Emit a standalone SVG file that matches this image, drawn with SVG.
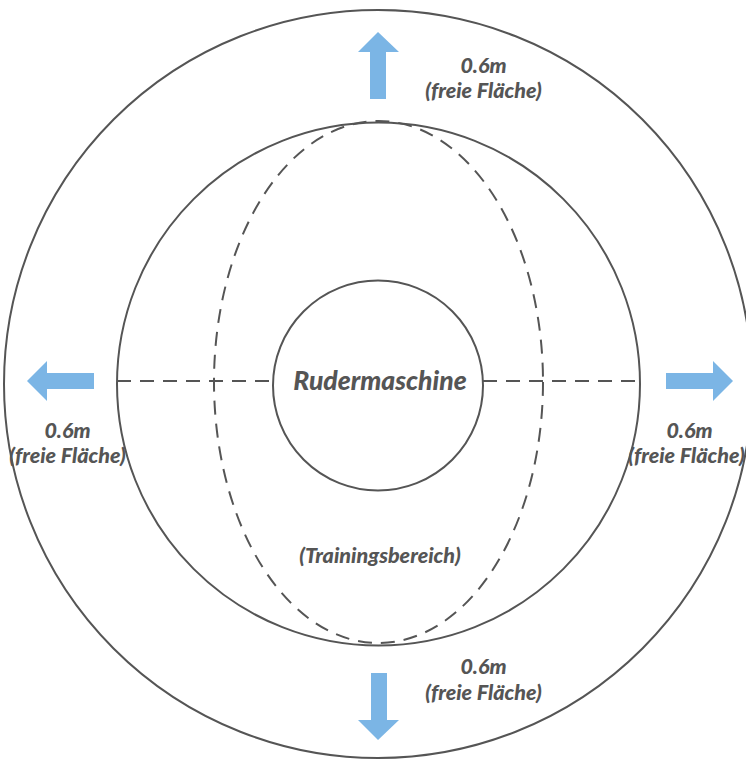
<svg xmlns="http://www.w3.org/2000/svg" width="746" height="761" viewBox="0 0 746 761">
<style>
.ring{fill:none;stroke:#555;stroke-width:2}
.dash{fill:none;stroke:#555;stroke-width:2;stroke-dasharray:14 9}
.arrow{fill:#7bb5e5}
.lbl{font-family:Lato,"Open Sans",sans-serif;font-weight:900;font-style:italic;fill:#555;text-anchor:middle;font-size:21.5px}
.big{font-size:26.5px}
</style>
<rect width="746" height="761" fill="#fff"/>
<g id="outer"><circle class="ring" cx="378" cy="384" r="374"/></g>
<g id="training-area">
<circle class="ring" cx="378.5" cy="384" r="261.5"/>
<ellipse class="dash" cx="378.5" cy="382" rx="164.5" ry="261"/>
<text class="lbl" x="380" y="563">(Trainingsbereich)</text>
</g>
<g id="connectors">
<line class="dash" x1="117" y1="381" x2="273" y2="381"/>
<line class="dash" x1="483" y1="381" x2="640" y2="381"/>
</g>
<g id="rudermaschine">
<circle class="ring" cx="378" cy="385.5" r="105"/>
<text class="lbl big" x="380" y="390">Rudermaschine</text>
</g>
<g id="arrow-top">
<polygon class="arrow" points="378,32 399,52 386,52 386,99 370,99 370,52 358,52"/>
<text class="lbl" x="483.5" y="73">0.6m</text>
<text class="lbl" x="483.5" y="98">(freie Fläche)</text>
</g>
<g id="arrow-bottom">
<polygon class="arrow" points="378,740 399,720 387,720 387,673 371,673 371,720 358,720"/>
<text class="lbl" x="483.5" y="674">0.6m</text>
<text class="lbl" x="483.5" y="700">(freie Fläche)</text>
</g>
<g id="arrow-left">
<polygon class="arrow" points="27,381 47,361 47,373 94,373 94,389 47,389 47,401"/>
<text class="lbl" x="67.5" y="438">0.6m</text>
<text class="lbl" x="67.5" y="463">(freie Fläche)</text>
</g>
<g id="arrow-right">
<polygon class="arrow" points="733,381 713,361 713,373 666,373 666,389 713,389 713,401"/>
<text class="lbl" x="689.5" y="438">0.6m</text>
<text class="lbl" x="686.5" y="463">(freie Fläche)</text>
</g>
</svg>
